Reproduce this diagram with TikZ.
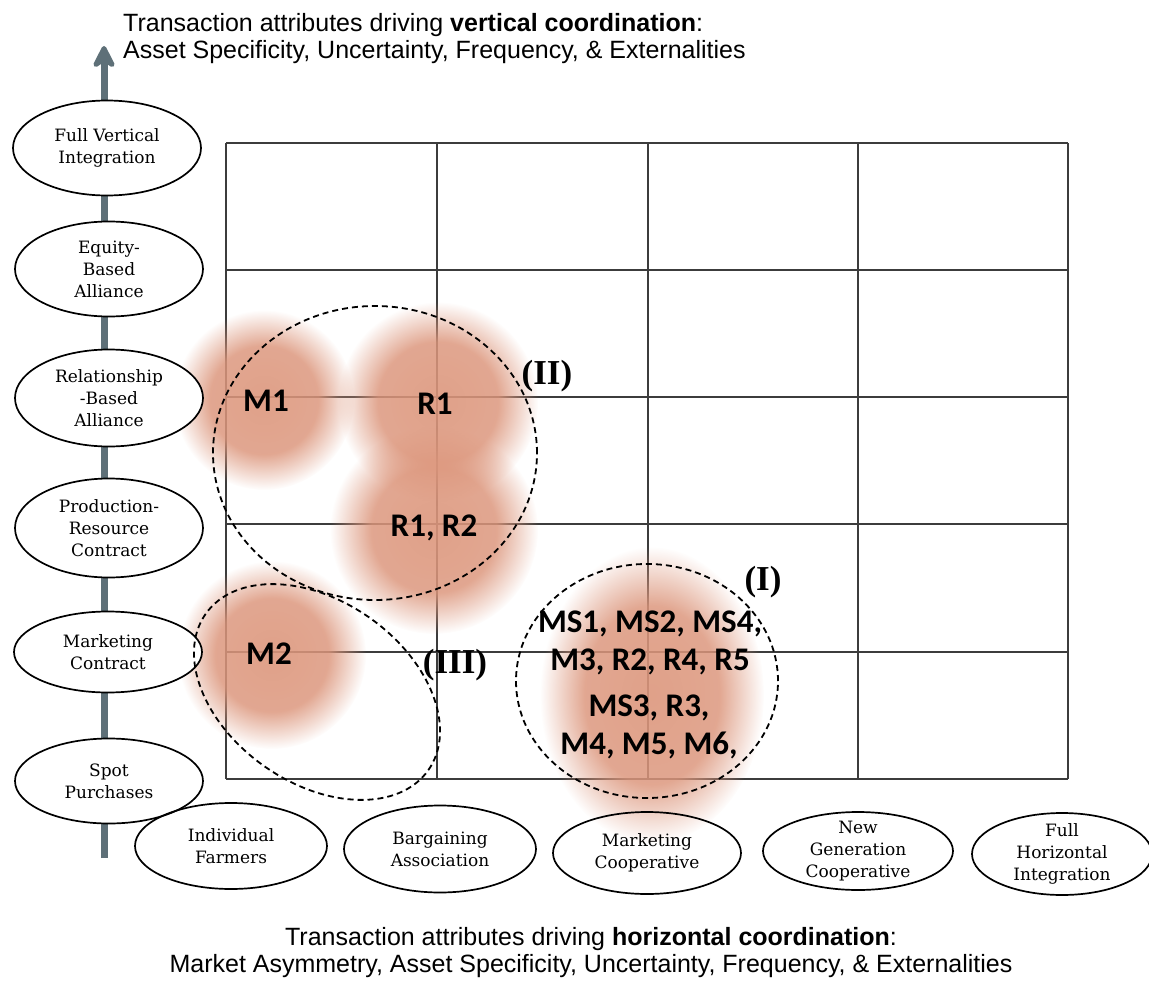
\documentclass[tikz,border=0pt]{standalone}
\usepackage{fontspec}
\setmainfont{DejaVu Serif}
\setsansfont{Liberation Sans}
\newfontfamily\labfont{Carlito}
\newfontfamily\romfont{Liberation Serif}
\usetikzlibrary{arrows.meta,shapes.geometric,fadings}
\definecolor{axisgray}{RGB}{94,112,120}
\definecolor{blobpeach}{RGB}{220,150,124}
\definecolor{gridgray}{RGB}{60,60,60}
\pgfdeclareradialshading{blobshade}{\pgfpointorigin}{color(0bp)=(white!90!black); color(15bp)=(white!84!black); color(25bp)=(black); color(50bp)=(black)}
\pgfdeclarefading{blobfade}{\pgfuseshading{blobshade}}
\newcommand{\blob}[3]{\fill[blobpeach,path fading=blobfade] (#1) ellipse(#2pt and #3pt);}

\begin{document}
\begin{tikzpicture}[x=1pt,y=-1pt,
  stage/.style={ellipse,draw,line width=1.7pt,fill=white,inner sep=0pt,minimum width=188pt,minimum height=95pt,align=center,font=\fontsize{17}{22}\selectfont},
  firm/.style={stage,fill=none,minimum width=190pt,minimum height=84pt,inner ysep=-5pt},
  grp/.style={ellipse,draw,dash pattern=on 6pt off 4pt,line width=1.8pt,inner sep=0pt},
  tag/.style={font=\labfont\bfseries\fontsize{33}{38}\selectfont,align=center,inner sep=0pt},
  roman/.style={font=\romfont\bfseries\fontsize{35}{40}\selectfont,inner sep=0pt},
  heading/.style={font=\sffamily\fontsize{25}{27}\selectfont,inner sep=0pt}]
\useasboundingbox (0,0) rectangle (1149,982);
\foreach \x in {226,437,648,858,1068}{\draw[gridgray,line width=1.2pt] (\x,143)--(\x,779);}
\foreach \y in {143,270,397,524,652,779}{\draw[gridgray,line width=1.2pt] (226,\y)--(1068,\y);}
\blob{264,400}{90}{90}
\blob{438,402}{100}{100}
\blob{434,530}{104}{104}
\blob{272,655}{94}{94}
\blob{652,695}{112}{148}
\coordinate (vbot) at (104,858);
\coordinate (vtop) at (104,46);
\draw[axisgray,line width=7pt,-{Stealth[length=28pt,width=28pt,inset=9pt,round]}] (vbot)--(vtop);
\node[stage] (fvi) at (107,148) {Full Vertical\\Integration};
\node[stage] (eba) at (109,269) {Equity-\\Based\\Alliance};
\node[stage,minimum height=97pt] (rba) at (109,398) {Relationship\\-Based\\Alliance};
\node[stage,minimum height=99pt] (prc) at (109,528) {Production-\\Resource\\Contract};
\node[stage,minimum height=81pt] (mkc) at (108,652) {Marketing\\Contract};
\node[stage,minimum height=85pt] (spot) at (109,781) {Spot\\Purchases};
\node[firm,minimum width=192pt,minimum height=86pt] (indf) at (231,846) {Individual\\Farmers};
\node[firm,minimum width=192pt,minimum height=87pt] (barg) at (440,849) {Bargaining\\Association};
\node[firm,minimum width=188pt,minimum height=82pt] (mcoop) at (647,853) {Marketing\\Cooperative};
\node[firm,minimum width=190pt,minimum height=78pt] (ngc) at (858,851) {New\\Generation\\Cooperative};
\node[firm,minimum width=180pt,minimum height=82pt] (fhi) at (1062,854) {Full\\Horizontal\\Integration};
\node[grp,minimum width=324pt,minimum height=294pt] (grpII) at (375,453) {};
\node[grp,minimum width=262pt,minimum height=234pt] (grpI) at (647,681) {};
\node[grp,minimum width=272pt,minimum height=182pt,rotate=-35] (grpIII) at (317,692) {};
\node[tag] (m1) at (266,401) {M1};
\node[tag] (r1) at (435,404) {R1};
\node[tag] (r12) at (434,528) {R1, R2};
\node[tag] (m2) at (269,654) {M2};
\node[tag] (grpItop) at (650,643) {MS1, MS2, MS4,\\M3, R2, R4, R5};
\node[tag] (grpIbot) at (649,727) {MS3, R3,\\M4, M5, M6,};
\node[roman] (labII) at (547,376) {(II)};
\node[roman] (labI) at (763,582) {(I)};
\node[roman] (labIII) at (455,665) {(III)};
\node[heading,anchor=north west,align=left] (vhead) at (123,13) {Transaction attributes driving \textbf{vertical coordination}:\\Asset Specificity, Uncertainty, Frequency, \& Externalities};
\node[heading,anchor=north,align=center] (hhead) at (591,927) {Transaction attributes driving \textbf{horizontal coordination}:\\Market Asymmetry, Asset Specificity, Uncertainty, Frequency, \& Externalities};
\end{tikzpicture}
\end{document}
